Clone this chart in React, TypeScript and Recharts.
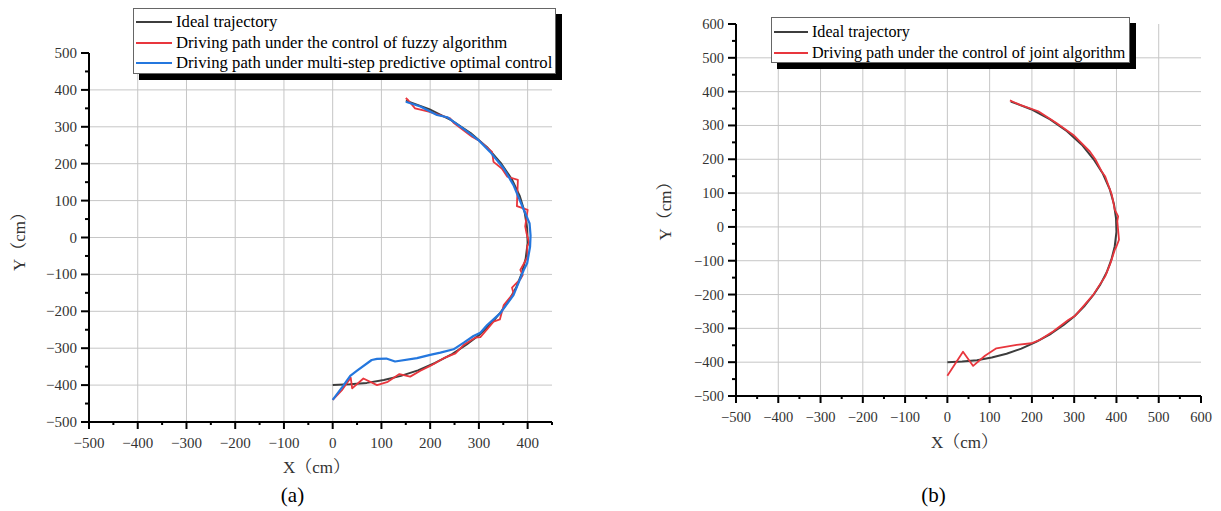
import { CartesianGrid, Legend, Scatter, ScatterChart, XAxis, YAxis } from "recharts";

const SERIF = "'Liberation Serif', 'Times New Roman', 'Noto Serif CJK SC', 'Noto Sans CJK SC', serif";

type Pt = { x: number; y: number };

// ideal circular trajectory (same in both panels)
const idealTrajectory: Pt[] = [
  { x: 0, y: -400 }, { x: 35, y: -398 }, { x: 70, y: -394 }, { x: 105, y: -386 }, { x: 140, y: -375 },
  { x: 175, y: -360 }, { x: 210, y: -340 }, { x: 245, y: -316 }, { x: 275, y: -290 }, { x: 300, y: -265 },
  { x: 325, y: -233 }, { x: 345, y: -202 }, { x: 362, y: -170 }, { x: 377, y: -134 }, { x: 388, y: -97 },
  { x: 396, y: -57 }, { x: 400, y: -15 }, { x: 399, y: 25 }, { x: 394, y: 68 }, { x: 384, y: 112 },
  { x: 368, y: 157 }, { x: 346, y: 200 }, { x: 318, y: 243 }, { x: 283, y: 283 }, { x: 243, y: 318 },
  { x: 198, y: 348 }, { x: 150, y: 371 },
];

// (a) fuzzy algorithm path
const fuzzyPathA: Pt[] = [
  { x: 0, y: -440 }, { x: 20, y: -412 }, { x: 37, y: -380 }, { x: 40, y: -409 }, { x: 63, y: -382 },
  { x: 91, y: -400 }, { x: 113, y: -391 }, { x: 137, y: -370 }, { x: 159, y: -377 }, { x: 180, y: -361 },
  { x: 200, y: -348 }, { x: 228, y: -327 }, { x: 252, y: -314 }, { x: 269, y: -291 }, { x: 293, y: -271 },
  { x: 303, y: -270 }, { x: 318, y: -247 }, { x: 330, y: -228 }, { x: 343, y: -222 }, { x: 351, y: -183 },
  { x: 371, y: -151 }, { x: 368, y: -136 }, { x: 385, y: -113 }, { x: 390, y: -102 }, { x: 385, y: -88 },
  { x: 400, y: -52 }, { x: 399, y: -24 }, { x: 403, y: -14 }, { x: 398, y: 10 }, { x: 395, y: 30 },
  { x: 400, y: 75 }, { x: 378, y: 85 }, { x: 380, y: 156 }, { x: 358, y: 165 }, { x: 347, y: 187 },
  { x: 330, y: 205 }, { x: 327, y: 232 }, { x: 303, y: 260 }, { x: 286, y: 273 }, { x: 248, y: 311 },
  { x: 241, y: 323 }, { x: 197, y: 341 }, { x: 169, y: 350 }, { x: 155, y: 372 }, { x: 150, y: 378 },
];

// (a) multi-step predictive optimal control path
const multiStepPathA: Pt[] = [
  { x: 0, y: -440 }, { x: 20, y: -405 }, { x: 36, y: -375 }, { x: 50, y: -361 }, { x: 80, y: -332 },
  { x: 91, y: -329 }, { x: 110, y: -328 }, { x: 128, y: -336 }, { x: 173, y: -327 }, { x: 200, y: -318 },
  { x: 221, y: -312 }, { x: 248, y: -303 }, { x: 269, y: -285 }, { x: 289, y: -267 }, { x: 303, y: -258 },
  { x: 317, y: -237 }, { x: 344, y: -205 }, { x: 371, y: -156 }, { x: 392, y: -88 }, { x: 399, y: -70 },
  { x: 405, y: -25 }, { x: 406, y: 5 }, { x: 404, y: 38 }, { x: 388, y: 88 }, { x: 371, y: 142 },
  { x: 351, y: 187 }, { x: 323, y: 232 }, { x: 299, y: 264 }, { x: 272, y: 291 }, { x: 235, y: 326 },
  { x: 214, y: 332 }, { x: 180, y: 355 }, { x: 150, y: 368 },
];

// (b) joint algorithm path
const jointPathB: Pt[] = [
  { x: 0, y: -440 }, { x: 37, y: -369 }, { x: 61, y: -411 }, { x: 89, y: -381 }, { x: 116, y: -359 },
  { x: 164, y: -349 }, { x: 199, y: -344 }, { x: 219, y: -334 }, { x: 250, y: -309 }, { x: 286, y: -275 },
  { x: 302, y: -263 }, { x: 325, y: -230 }, { x: 345, y: -201 }, { x: 373, y: -147 }, { x: 385, y: -110 },
  { x: 396, y: -68 }, { x: 400, y: -58 }, { x: 406, y: -38 }, { x: 402, y: 17 }, { x: 404, y: 31 },
  { x: 396, y: 51 }, { x: 389, y: 95 }, { x: 373, y: 150 }, { x: 365, y: 164 }, { x: 350, y: 200 },
  { x: 337, y: 223 }, { x: 298, y: 272 }, { x: 258, y: 307 }, { x: 215, y: 342 }, { x: 172, y: 361 },
  { x: 155, y: 370 }, { x: 148, y: 374 },
];

const xTicksA = [-500, -450, -400, -350, -300, -250, -200, -150, -100, -50, 0, 50, 100, 150, 200, 250, 300, 350, 400, 450];
const yTicksA = [-500, -450, -400, -350, -300, -250, -200, -150, -100, -50, 0, 50, 100, 150, 200, 250, 300, 350, 400, 450, 500];
const gridXA = [-400, -300, -200, -100, 0, 100, 200, 300, 400];
const gridYA = [-400, -300, -200, -100, 0, 100, 200, 300, 400];

const xTicksB = [-500, -450, -400, -350, -300, -250, -200, -150, -100, -50, 0, 50, 100, 150, 200, 250, 300, 350, 400, 450, 500, 550, 600];
const yTicksB = [-500, -450, -400, -350, -300, -250, -200, -150, -100, -50, 0, 50, 100, 150, 200, 250, 300, 350, 400, 450, 500, 550, 600];
const gridXB = [-400, -300, -200, -100, 0, 100, 200, 300, 400, 500];
const gridYB = [-400, -300, -200, -100, 0, 100, 200, 300, 400, 500];

const BLACK_LINE = "#3d3d3d";
const RED_LINE = "#e8363d";
const BLUE_LINE = "#2477de";

const seriesA = [
  { name: "Ideal trajectory", color: BLACK_LINE, data: idealTrajectory, width: 2 },
  { name: "Driving path under the control of fuzzy algorithm", color: RED_LINE, data: fuzzyPathA, width: 1.8 },
  { name: "Driving path under multi-step predictive optimal control", color: BLUE_LINE, data: multiStepPathA, width: 2.2 },
];
const seriesB = [
  { name: "Ideal trajectory", color: BLACK_LINE, data: idealTrajectory, width: 2 },
  { name: "Driving path under the control of joint algorithm", color: RED_LINE, data: jointPathB, width: 1.8 },
];

const fmt = (v: number) => (v < 0 ? "\u2212" + Math.abs(v) : String(v));

const makeXTick = (fontSize: number) => (props: any) => {
  const { x, y, payload } = props;
  const v = payload.value;
  const major = v % 100 === 0;
  return (
    <g>
      <line x1={x} x2={x} y1={y} y2={y + (major ? 7 : 3)} stroke="#000" strokeWidth={2} />
      {major ? (
        <text x={x} y={y + 26} textAnchor="middle" fontSize={fontSize} fontFamily={SERIF} fill="#333">
          {fmt(v)}
        </text>
      ) : null}
    </g>
  );
};

const makeYTick = (fontSize: number) => (props: any) => {
  const { x, y, payload } = props;
  const v = payload.value;
  const major = v % 100 === 0;
  return (
    <g>
      <line x1={x} x2={x - (major ? 8 : 4)} y1={y} y2={y} stroke="#000" strokeWidth={2} />
      {major ? (
        <text x={x - 12} y={y + 5} textAnchor="end" fontSize={fontSize} fontFamily={SERIF} fill="#333">
          {fmt(v)}
        </text>
      ) : null}
    </g>
  );
};

function LegendBox({ items, width, height, fontSize, rowTop, rowGap, lineLen }: any) {
  return (
    <div style={{ position: "relative", width: width + 6, height: height + 6 }}>
      <div style={{ position: "absolute", left: 6, top: 6, width, height, background: "#000" }} />
      <div
        style={{
          position: "absolute", left: 0, top: 0, width, height, boxSizing: "border-box",
          background: "#fff", border: "1px solid #666",
        }}
      >
        {items.map((s: any, i: number) => (
          <div
            key={s.name}
            style={{
              position: "absolute", left: 2, top: rowTop + i * rowGap - 10, height: 20,
              display: "flex", alignItems: "center", whiteSpace: "nowrap",
            }}
          >
            <div style={{ width: lineLen, height: 0, borderTop: `2px solid ${s.color}` }} />
            <span style={{ marginLeft: 4, fontFamily: SERIF, fontSize, color: "#000" }}>{s.name}</span>
          </div>
        ))}
      </div>
    </div>
  );
}

function Panel(p: any) {
  const xTitle = (props: any) => {
    const vb = props.viewBox;
    const cx = vb.x + vb.width / 2;
    return (
      <g>
        <text x={cx + p.xTitleDx} y={vb.y + p.xTitleDy} textAnchor="middle" fontSize={17} fontFamily={SERIF} fill="#333">
          X（cm）
        </text>
        <text x={cx + p.capDx} y={vb.y + p.capDy} textAnchor="middle" fontSize={21} fontFamily={SERIF} fill="#000">
          {p.caption}
        </text>
      </g>
    );
  };
  const yTitle = (props: any) => {
    const vb = props.viewBox;
    const cx = vb.x + p.yTitleDx;
    const cy = vb.y + vb.height / 2 + p.yTitleDy;
    return (
      <text x={cx} y={cy} transform={`rotate(-90 ${cx} ${cy})`} textAnchor="middle" dominantBaseline="central"
        fontSize={17} fontFamily={SERIF} fill="#333">
        Y（cm）
      </text>
    );
  };
  return (
    <ScatterChart width={p.width} height={p.height} margin={p.margin}>
      <CartesianGrid stroke="#c6c6c6" strokeWidth={1} horizontalValues={p.gridY} verticalValues={p.gridX} />
      <XAxis
        type="number" dataKey="x" domain={p.xDomain} ticks={p.xTicks} interval={0} height={30}
        allowDataOverflow tickLine={false} tickSize={0} tickMargin={0}
        axisLine={{ stroke: "#000", strokeWidth: 2 }} tick={makeXTick(p.tickFont)} label={{ content: xTitle }}
      />
      <YAxis
        type="number" dataKey="y" domain={p.yDomain} ticks={p.yTicks} interval={0} width={70}
        allowDataOverflow tickLine={false} tickSize={0} tickMargin={0}
        axisLine={{ stroke: "#000", strokeWidth: 2 }} tick={makeYTick(p.tickFont)} label={{ content: yTitle }}
      />
      <Legend
        layout="horizontal" verticalAlign="middle" align="center"
        wrapperStyle={{ left: p.legend.left, top: p.legend.top, width: p.legend.width + 6 }}
        content={() => <LegendBox items={p.series} {...p.legend} />}
      />
      {p.series.map((s: any) => (
        <Scatter
          key={s.name} name={s.name} data={s.data} fill={s.color}
          line={{ stroke: s.color, strokeWidth: s.width, strokeLinejoin: "round" }}
          lineType="joint" shape={() => <g />} isAnimationActive={false}
        />
      ))}
    </ScatterChart>
  );
}

export default function App() {
  return (
    <div style={{ position: "absolute", left: 0, top: 0, width: 1221, height: 511, background: "#fff" }}>
      <div style={{ position: "absolute", left: 0, top: 0 }}>
        <Panel
          width={600} height={511} margin={{ top: 53, right: 48, bottom: 59, left: 19 }}
          xDomain={[-500, 450]} yDomain={[-500, 500]} xTicks={xTicksA} yTicks={yTicksA}
          gridX={gridXA} gridY={gridYA} series={seriesA} tickFont={15}
          xTitleDx={-4} xTitleDy={51} capDx={-28} capDy={80} caption="(a)"
          yTitleDx={0} yTitleDy={0}
          legend={{ left: 133, top: 8, width: 423, height: 66, fontSize: 16.7, rowTop: 12.7, rowGap: 20.8, lineLen: 36 }}
        />
      </div>
      <div style={{ position: "absolute", left: 610, top: 0 }}>
        <Panel
          width={611} height={511} margin={{ top: 24, right: 20, bottom: 85, left: 56 }}
          xDomain={[-500, 600]} yDomain={[-500, 600]} xTicks={xTicksB} yTicks={yTicksB}
          gridX={gridXB} gridY={gridYB} series={seriesB} tickFont={14.5}
          xTitleDx={-4} xTitleDy={52} capDx={-35} capDy={106} caption="(b)"
          yTitleDx={-1} yTitleDy={-3}
          legend={{ left: 161, top: 17, width: 359, height: 46, fontSize: 16.1, rowTop: 13.7, rowGap: 21.6, lineLen: 34 }}
        />
      </div>
    </div>
  );
}
